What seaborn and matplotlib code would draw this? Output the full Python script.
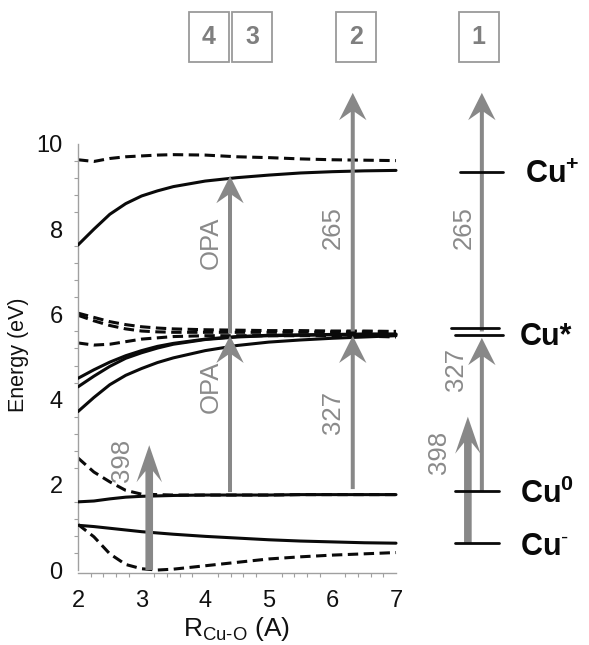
import numpy as np
import pandas as pd
import matplotlib
matplotlib.use("Agg")
import matplotlib.pyplot as plt
import seaborn as sns
from matplotlib.patches import Rectangle

# ---------------- data ----------------
r_cuo = [2.0, 2.25, 2.5, 2.75, 3.0, 3.25, 3.5, 4.0, 4.5, 5.0, 5.5, 6.0, 6.5, 7.0]

# solid curves
e_cuplus_solid = [7.63, 8.0, 8.35, 8.6, 8.78, 8.9, 9.0, 9.13, 9.21, 9.27, 9.32, 9.35, 9.37, 9.38]
e_custar_s1 = [4.5, 4.7, 4.88, 5.03, 5.15, 5.25, 5.32, 5.42, 5.48, 5.51, 5.52, 5.53, 5.54, 5.54]
e_custar_s2 = [4.3, 4.55, 4.78, 4.97, 5.1, 5.21, 5.3, 5.41, 5.47, 5.5, 5.51, 5.52, 5.53, 5.53]
e_custar_s3 = [3.72, 4.05, 4.35, 4.57, 4.73, 4.87, 4.98, 5.15, 5.27, 5.35, 5.4, 5.44, 5.47, 5.5]
e_cu0_solid = [1.6, 1.62, 1.67, 1.71, 1.73, 1.74, 1.75, 1.76, 1.76, 1.76, 1.77, 1.77, 1.77, 1.77]
e_cuminus_solid = [1.05, 1.02, 0.98, 0.94, 0.9, 0.87, 0.84, 0.79, 0.75, 0.71, 0.68, 0.66, 0.64, 0.63]

# dashed curves
e_cuplus_dash = [9.63, 9.59, 9.66, 9.7, 9.72, 9.74, 9.75, 9.74, 9.7, 9.68, 9.65, 9.63, 9.62, 9.61]
e_custar_d1 = [6.03, 5.93, 5.83, 5.76, 5.71, 5.68, 5.66, 5.64, 5.63, 5.62, 5.62, 5.61, 5.61, 5.6]
e_custar_d2 = [5.98, 5.85, 5.74, 5.66, 5.61, 5.59, 5.58, 5.58, 5.58, 5.58, 5.58, 5.59, 5.59, 5.6]
e_custar_d3 = [5.33, 5.28, 5.3, 5.36, 5.42, 5.45, 5.48, 5.5, 5.5, 5.5, 5.5, 5.5, 5.49, 5.47]
e_cu0_dash = [2.63, 2.3, 2.07, 1.87, 1.78, 1.77, 1.76, 1.76, 1.76, 1.76, 1.77, 1.77, 1.77, 1.77]
e_cuminus_dash = [1.07, 0.78, 0.38, 0.13, 0.03, 0.0, 0.02, 0.1, 0.18, 0.26, 0.31, 0.35, 0.38, 0.41]

# asymptotic levels (right side)
level_names = ["Cu$^{\\mathbf{+}}$", "Cu*", "Cu$^{\\mathbf{0}}$", "Cu$^{\\mathbf{\\text{-}}}$"]
level_energy = [9.34, 5.6, 1.85, 0.63]
custar_split = [5.67, 5.52]

# transitions
arrow_x = [3.12, 4.39, 4.39, 6.32, 6.32, 8.13, 8.35, 8.35]
arrow_start = [0.0, 1.83, 5.55, 1.9, 5.6, 0.63, 1.85, 5.6]
arrow_end = [2.93, 5.5, 9.25, 5.5, 11.2, 3.6, 5.45, 11.2]
arrow_thick = [True, False, False, False, False, True, False, False]
arrow_labels = ["398", "OPA", "OPA", "327", "265", "398", "327", "265"]
label_x = [2.69, 4.09, 4.09, 6.01, 6.01, 7.68, 7.95, 8.07]
label_y = [2.58, 4.3, 7.68, 3.69, 8.03, 2.77, 4.7, 8.03]

panel_ids = ["4", "3", "2", "1"]
panel_x = [4.06, 4.74, 6.37, 8.3]

# ---------------- style ----------------
sns.set_theme(style="white")
plt.rcParams["font.family"] = ["Liberation Sans", "DejaVu Sans"]
plt.rcParams["mathtext.fontset"] = "custom"
plt.rcParams["mathtext.rm"] = "Liberation Sans"
plt.rcParams["mathtext.bf"] = "Liberation Sans:bold"

fig = plt.figure(figsize=(5.89, 6.45), dpi=100)
ax = fig.add_axes([78 / 589, 72 / 645, 511 / 589, 573 / 645])
ax.set_xlim(2, 2 + 511 / 63.6)
ax.set_ylim(-0.07, 13.38)

black = "#0a0a0a"
solid = [e_cuplus_solid, e_custar_s1, e_custar_s2, e_custar_s3, e_cu0_solid, e_cuminus_solid]
dashed = [e_cuplus_dash, e_custar_d1, e_custar_d2, e_custar_d3, e_cu0_dash, e_cuminus_dash]
for ys in dashed:
    sns.lineplot(x=r_cuo, y=ys, ax=ax, color=black, lw=2.2, linestyle=(0, (3.4, 1.8)), zorder=2)
for ys in solid:
    sns.lineplot(x=r_cuo, y=ys, ax=ax, color=black, lw=2.2, zorder=3)

# arrows
gray = "#888888"
for x, s, e, th in zip(arrow_x, arrow_start, arrow_end, arrow_thick):
    if th:
        w, hw, hl = 0.12, 0.40, 0.87
    else:
        w, hw, hl = 0.063, 0.43, 0.64
    ax.arrow(x, s, 0, e - s, width=w, head_width=hw, head_length=hl,
             length_includes_head=True, overhang=0.3, color=gray, lw=0,
             zorder=4, clip_on=False)

for t, lx, ly in zip(arrow_labels, label_x, label_y):
    ax.text(lx, ly, t, rotation=90, ha="center", va="center", fontsize=18.5,
            color="#8a8a8a", zorder=5)

# right side levels
for name, e in zip(level_names, level_energy):
    if name == "Cu*":
        ax.plot([7.86, 8.62], [custar_split[0]] * 2, color=black, lw=2.0, zorder=6)
        ax.plot([7.93, 8.68], [custar_split[1]] * 2, color=black, lw=2.0, zorder=6)
    elif e > 9:
        ax.plot([8.0, 8.68], [e, e], color=black, lw=2.0, zorder=6)
    else:
        ax.plot([7.93, 8.62], [e, e], color=black, lw=2.0, zorder=6)

label_pos_x = [9.03, 8.95, 8.95, 8.95]
label_pos_y = [9.28, 5.47, 1.78, 0.55]
for name, lx, ly in zip(level_names, label_pos_x, label_pos_y):
    ax.text(lx, ly, name, ha="left", va="center", fontsize=22, fontweight="bold",
            color=black)

# panel boxes
for pid, px in zip(panel_ids, panel_x):
    ax.add_patch(Rectangle((px - 0.315, 12.51 - 0.585), 0.63, 1.17, fill=False,
                           edgecolor="#9a9a9a", lw=1.3, clip_on=False))
    ax.text(px, 12.51, pid, ha="center", va="center", fontsize=18,
            fontweight="bold", color="#7f7f7f")

# axes styling
for side in ["top", "right"]:
    ax.spines[side].set_visible(False)
ax.spines["left"].set_bounds(0, 10)
ax.spines["bottom"].set_bounds(2, 7)
for side in ["left", "bottom"]:
    ax.spines[side].set_color("#a0a0a0")
    ax.spines[side].set_linewidth(1.0)

ax.set_xticks([2, 3, 4, 5, 6, 7])
ax.set_xticks(np.arange(2, 7.01, 0.2), minor=True)
ax.set_yticks([0, 2, 4, 6, 8, 10])
ax.set_yticks(np.arange(0, 10.01, 0.4), minor=True)
ax.tick_params(axis="both", which="both", colors="#a0a0a0", labelcolor="#111111",
               labelsize=17)
ax.tick_params(axis="both", which="major", length=4, width=1, direction="out")
ax.tick_params(axis="both", which="minor", length=3, width=0.8, direction="out")
ax.tick_params(axis="y", which="major", pad=7)
ax.tick_params(axis="x", which="major", pad=8)
ax.tick_params(axis="both", which="minor", bottom=True, left=True)

ax.set_ylabel("Energy (eV)", fontsize=15.5, color="#111111")
ax.yaxis.set_label_coords((29 - 78) / 511, (573 - 355) / 573)
ax.set_xlabel("R$_{\\mathregular{Cu\\text{-}O}}$ (A)", fontsize=19, color="#111111")
ax.xaxis.set_label_coords((237 - 78) / 511, (573 - 615) / 573)

fig.savefig("out.png", dpi=100)
